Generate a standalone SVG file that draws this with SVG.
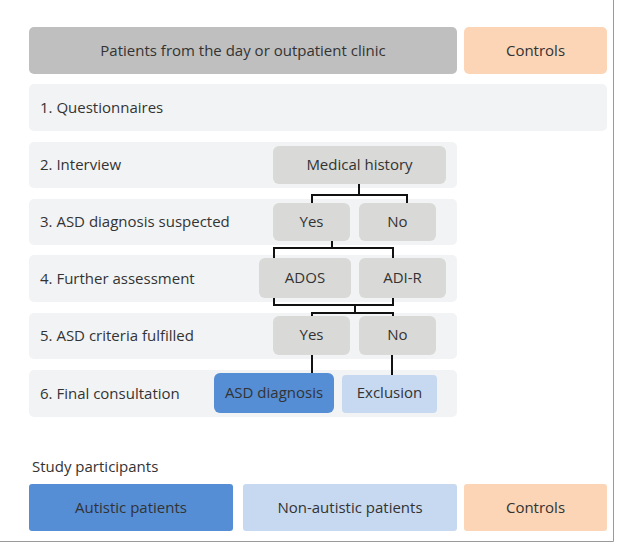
<svg xmlns="http://www.w3.org/2000/svg" width="617" height="544" viewBox="0 0 617 544">
<style>
text{font-family:"Open Sans","Noto Sans","Liberation Sans",sans-serif;font-size:15px;fill:#333}
.c{text-anchor:middle}
.band{fill:#f2f3f5}
.box{fill:#d9d9d7}
.grey{fill:#bfbfbf}
.peach{fill:#fbd5b5}
.blue{fill:#558ed5}
.lblue{fill:#c6d9f0}
.con{fill:none;stroke:#111;stroke-width:2}
</style>
<rect x="0" y="0" width="617" height="544" fill="#fff"/>
<path d="M613.5 0V541.5H0" fill="none" stroke="#9a9a9a" stroke-width="1"/>
<g id="top-patients"><rect class="grey" x="29" y="27" width="428" height="47" rx="5"/><text class="c" x="243" y="56">Patients from the day or outpatient clinic</text></g>
<g id="top-controls"><rect class="peach" x="464" y="27" width="143" height="47" rx="5"/><text class="c" x="535.5" y="56">Controls</text></g>
<g id="row1"><rect class="band" x="29" y="84" width="578" height="47" rx="5"/><text x="40" y="113">1. Questionnaires</text></g>
<g id="row2"><rect class="band" x="29" y="142" width="428" height="46" rx="5"/><text x="40" y="170">2. Interview</text></g>
<g id="row3"><rect class="band" x="29" y="199" width="428" height="46" rx="5"/><text x="40" y="227">3. ASD diagnosis suspected</text></g>
<g id="row4"><rect class="band" x="29" y="255" width="428" height="47" rx="5"/><text x="40" y="284">4. Further assessment</text></g>
<g id="row5"><rect class="band" x="29" y="313" width="428" height="46" rx="5"/><text x="40" y="341">5. ASD criteria fulfilled</text></g>
<g id="row6"><rect class="band" x="29" y="370" width="428" height="47" rx="5"/><text x="40" y="399">6. Final consultation</text></g>
<g id="medical-history"><rect class="box" x="273" y="146" width="173" height="38" rx="6"/><text class="c" x="359.5" y="170">Medical history</text></g>
<g id="yes1"><rect class="box" x="273" y="203" width="77" height="38" rx="6"/><text class="c" x="311.5" y="227">Yes</text></g>
<g id="no1"><rect class="box" x="359" y="203" width="77" height="38" rx="6"/><text class="c" x="397.5" y="227">No</text></g>
<g id="ados"><rect class="box" x="259" y="258" width="92" height="40" rx="6"/><text class="c" x="305" y="283">ADOS</text></g>
<g id="adir"><rect class="box" x="359" y="258" width="87" height="40" rx="6"/><text class="c" x="402.5" y="283">ADI-R</text></g>
<g id="yes2"><rect class="box" x="273" y="316" width="77" height="39" rx="6"/><text class="c" x="311.5" y="340">Yes</text></g>
<g id="no2"><rect class="box" x="359" y="316" width="77" height="39" rx="6"/><text class="c" x="397.5" y="340">No</text></g>
<g id="asd-diagnosis"><rect class="blue" x="214" y="373" width="120" height="40" rx="6"/><text class="c" x="274" y="398">ASD diagnosis</text></g>
<g id="exclusion"><rect class="lblue" x="342" y="375" width="95" height="38" rx="4"/><text class="c" x="389.5" y="398">Exclusion</text></g>
<g id="study-participants"><text x="32" y="472">Study participants</text></g>
<g id="autistic"><rect class="blue" x="29" y="484" width="204" height="47" rx="3"/><text class="c" x="131" y="513">Autistic patients</text></g>
<g id="non-autistic"><rect class="lblue" x="243" y="484" width="214" height="47" rx="3"/><text class="c" x="350" y="513">Non-autistic patients</text></g>
<g id="bottom-controls"><rect class="peach" x="464" y="484" width="143" height="47" rx="3"/><text class="c" x="535.5" y="513">Controls</text></g>
<g id="connectors">
<path class="con" d="M359 184V195M312 203V195H407V203"/>
<path class="con" d="M332 241V248M274 258V248H393V258"/>
<path class="con" d="M274 298V305H393V298M355 305V313M312 316V313H393V316"/>
<path class="con" d="M312 355V373M392 355V375"/>
</g>
</svg>
